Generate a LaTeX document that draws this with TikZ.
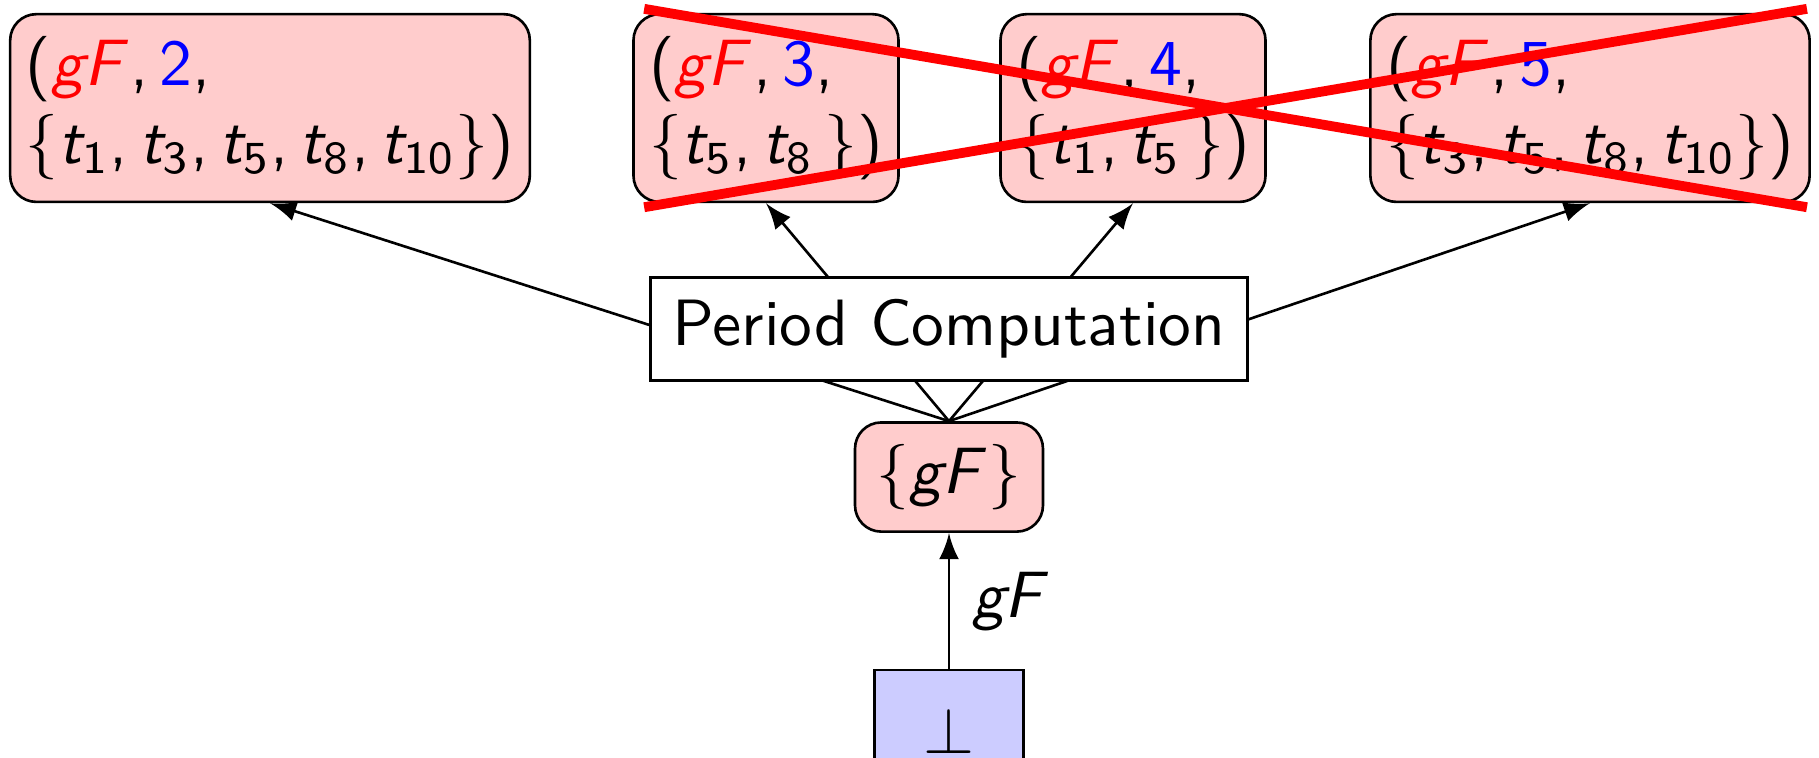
\documentclass[tikz,border=0pt]{standalone}
\usepackage{tikz}
% sans serif math in the style of beamer
\SetSymbolFont{operators}{normal}{OT1}{cmss}{m}{n}
\DeclareSymbolFont{sfletters}{OT1}{cmss}{m}{sl}
\DeclareMathSymbol{g}{\mathalpha}{sfletters}{`g}
\DeclareMathSymbol{F}{\mathalpha}{sfletters}{`F}
\DeclareMathSymbol{t}{\mathalpha}{sfletters}{`t}
\DeclareMathSymbol{,}{\mathpunct}{operators}{"2C}
\tikzset{
  result/.style={draw,rounded corners=4pt,fill=red!20,align=left,inner xsep=2.4pt},
  crossout/.style={red,line width=1.5pt},
}
\begin{document}
\begin{tikzpicture}[x=0.15267pt,y=-0.15267pt,>=latex,font=\sffamily]
  \useasboundingbox (0,0) rectangle (1819,757);
  \node[result] (r2) at (270,108) {$(\textcolor{red}{gF}, \textcolor{blue}{2},$\\$\{t_1, t_3, t_5, t_8, t_{10}\})$};
  \node[result] (r3) at (766,108) {$(\textcolor{red}{gF}, \textcolor{blue}{3},$\\$\{t_5, t_8\,\})$};
  \node[result] (r4) at (1133,108) {$(\textcolor{red}{gF}, \textcolor{blue}{4},$\\$\{t_1, t_5\,\})$};
  \node[result] (r5) at (1590,108) {$(\textcolor{red}{gF}, \textcolor{blue}{5},$\\$\{t_3, t_5, t_8, t_{10}\})$};
  \node[draw,rounded corners=4pt,fill=red!20] (gf) at (949,477) {$\{gF\}$};
  \node[draw,fill=blue!20,minimum width=22.7pt,minimum height=18.6pt] (bot) at (949,731) {$\bot$};
  \draw[->] (bot) -- node[right] {$gF$} (gf);
  \foreach \r in {r2,r3,r4,r5}
    \draw[->] (gf.north) -- (\r.south);
  % drawn last so it hides the middle of the arrows
  \node[draw,fill=white] (pc) at (949,329) {Period Computation};
  \draw[crossout] ([shift={(12,-4)}]r3.north west) -- ([shift={(-4,4)}]r5.south east);
  \draw[crossout] ([shift={(12,4)}]r3.south west) -- ([shift={(-4,-4)}]r5.north east);
\end{tikzpicture}
\end{document}
